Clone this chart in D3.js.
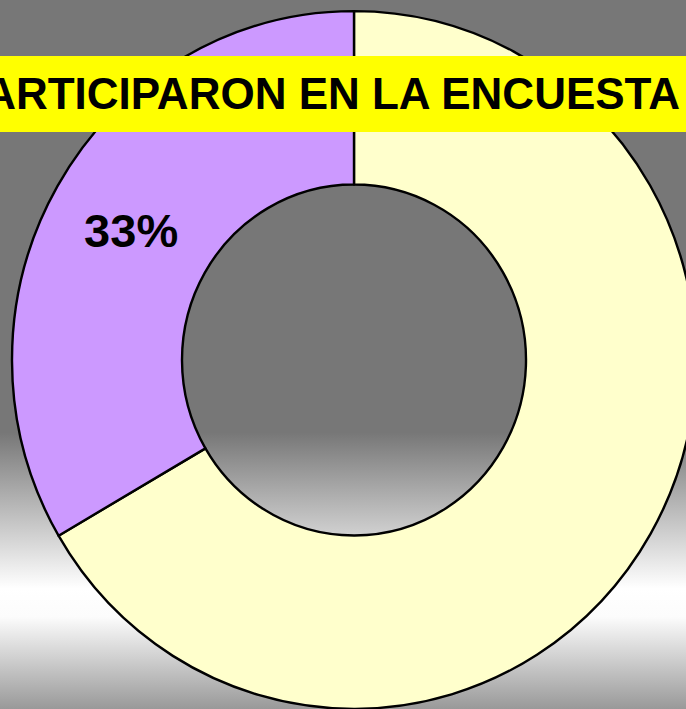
<!DOCTYPE html>
<html>
<head>
<meta charset="utf-8">
<script src="https://cdn.jsdelivr.net/npm/d3@7"></script>
<style>
  html, body { margin: 0; padding: 0; overflow: hidden; }
  svg { display: block; }
</style>
</head>
<body>
<script>
// Datos
const categorias = ["No participaron", "Participaron"];
const valores = [66.6, 33.4];
const colores = ["#ffffcc", "#cc99ff"];
const conEtiqueta = [false, true];
const titulo = "PARTICIPARON EN LA ENCUESTA";

// Variables
const w = 686;
const h = 709;
const cx = 354;
const cy = 360;
const rOut = 342;
const rIn = 172;
const sy = 1.02;

const svg = d3.select("body")
  .append("svg")
  .attr("width", w)
  .attr("height", h);

// Fondo degradado
const defs = svg.append("defs");
const grad = defs.append("linearGradient")
  .attr("id", "fondo")
  .attr("x1", 0).attr("y1", 0)
  .attr("x2", 0).attr("y2", 1);
[[0, "#777777"], [0.61, "#777777"], [0.83, "#ffffff"], [0.87, "#fcfcfc"], [1, "#999999"]]
  .forEach(s => grad.append("stop").attr("offset", s[0]).attr("stop-color", s[1]));

svg.append("rect")
  .attr("width", w)
  .attr("height", h)
  .attr("fill", "url(#fondo)");

// Anillo
const pie = d3.pie().sort(null).value(d => d.v);
const datos = categorias.map((c, i) => ({ c: c, v: valores[i], color: colores[i], etiqueta: conEtiqueta[i] }));
const arcs = pie(datos);
const arc = d3.arc().innerRadius(rIn).outerRadius(rOut);
const total = d3.sum(valores);

const g = svg.append("g")
  .attr("transform", `translate(${cx},${cy}) scale(1,${sy})`);

g.selectAll("path")
  .data(arcs)
  .enter()
  .append("path")
  .attr("d", arc)
  .attr("fill", d => d.data.color)
  .attr("stroke", "#000")
  .attr("stroke-width", 2.4)
  .attr("stroke-linejoin", "round")
  .attr("vector-effect", "non-scaling-stroke");

// Etiquetas
svg.selectAll("text.pct")
  .data(arcs.filter(d => d.data.etiqueta))
  .enter()
  .append("text")
  .attr("class", "pct")
  .attr("x", d => cx + arc.centroid(d)[0])
  .attr("y", d => cy + arc.centroid(d)[1] * sy)
  .attr("dy", "0.38em")
  .attr("text-anchor", "middle")
  .attr("font-family", "'Liberation Sans', Arial, sans-serif")
  .attr("font-weight", "bold")
  .attr("font-size", "47px")
  .attr("fill", "#000")
  .text(d => Math.round(d.data.v / total * 100) + "%");

// Banda del título
svg.append("rect")
  .attr("x", 0)
  .attr("y", 56)
  .attr("width", w)
  .attr("height", 76)
  .attr("fill", "#ffff00");

svg.append("text")
  .attr("x", 680)
  .attr("y", 109)
  .attr("text-anchor", "end")
  .attr("font-family", "'Liberation Sans', Arial, sans-serif")
  .attr("font-weight", "bold")
  .attr("font-size", "44px")
  .attr("fill", "#000")
  .text(titulo);
</script>
</body>
</html>
